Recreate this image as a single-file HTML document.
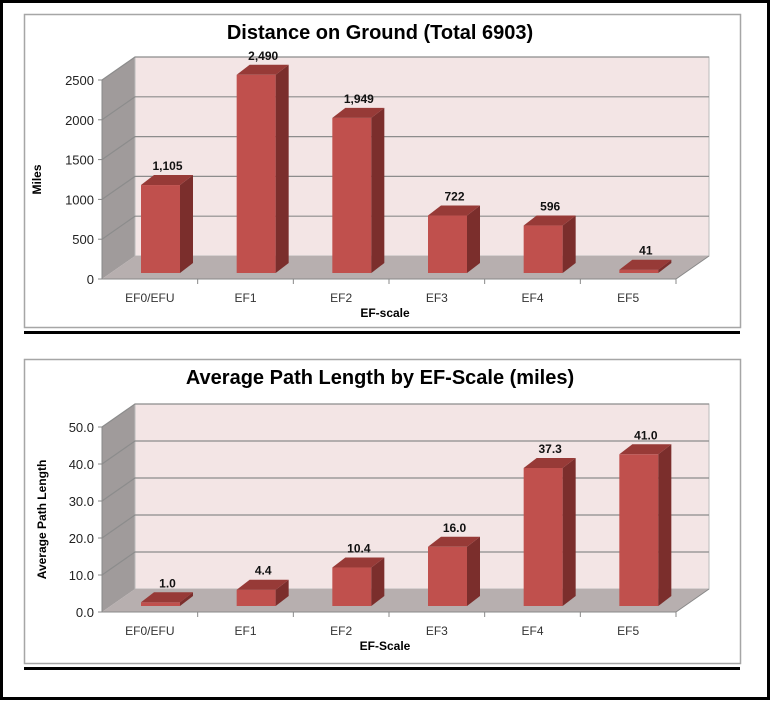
<!DOCTYPE html>
<html><head><meta charset="utf-8"><style>
body{margin:0;background:#fff;}
svg{display:block;font-family:"Liberation Sans",sans-serif;}
</style></head><body>
<svg id="svg" width="771" height="701" viewBox="0 0 771 701">
<rect x="1.5" y="1.5" width="767" height="697" fill="#fff" stroke="#000" stroke-width="3"/>
</svg>
<script>
const categories = ["EF0/EFU","EF1","EF2","EF3","EF4","EF5"];
const distanceValues = [1105,2490,1949,722,596,41];
const distanceLabels = ["1,105","2,490","1,949","722","596","41"];
const distanceTicks = [0,500,1000,1500,2000,2500];
const distanceTickLabels = ["0","500","1000","1500","2000","2500"];
const avgValues = [1.0,4.4,10.4,16.0,37.3,41.0];
const avgLabels = ["1.0","4.4","10.4","16.0","37.3","41.0"];
const avgTicks = [0,10,20,30,40,50];
const avgTickLabels = ["0.0","10.0","20.0","30.0","40.0","50.0"];

const NS="http://www.w3.org/2000/svg";
const svg=document.getElementById('svg');
function mk(tag,attrs,parent,text){const e=document.createElementNS(NS,tag);for(const k in attrs)e.setAttribute(k,attrs[k]);if(text!==undefined)e.textContent=text;(parent||svg).appendChild(e);return e;}

function chart(o){
  const g=mk('g',{});
  
  
  const fr=mk('rect',{x:24.5,y:o.frameTop+.5,width:716,height:o.frameBot-o.frameTop,fill:'#fff',stroke:'#a6a6a6','stroke-width':1.5},g);
  
  
  const ul=mk('rect',{x:24,y:o.frameBot+4,width:716,height:3,fill:'#000'},g);
  
  
  const t=mk('text',{x:380,y:o.frameTop+25,'text-anchor':'middle','font-size':20,'font-weight':'bold',fill:'#000'},g,o.title);
  
  
  const x0=102,x1=676,dx=33,dy=-23,y0=o.y0,ymax=o.ymax;
  const ys=v=>y0-(v/o.max)*(y0-ymax);
  // side wall
  const sw=mk('polygon',{points:`${x0},${y0} ${x0+dx},${y0+dy} ${x0+dx},${ymax+dy} ${x0},${ymax}`,fill:'#a09b9b'},g);
  
  
  const bw=mk('rect',{x:x0+dx,y:ymax+dy,width:x1-x0,height:y0-ymax,fill:'#f3e5e5',stroke:'#bbb'},g);
  
  
  const fl=mk('polygon',{points:`${x0},${y0} ${x1},${y0} ${x1+dx},${y0+dy} ${x0+dx},${y0+dy}`,fill:'#b7afaf'},g);
  
  
  o.ticks.forEach((v,i)=>{
    const y=ys(v);
    if(v>0){const gl=mk('polyline',{points:`${x0},${y} ${x0+dx},${y+dy} ${x1+dx},${y+dy}`,fill:'none',stroke:'#8c8c8c','stroke-width':1.2},g);
    
    }
    const tl=mk('text',{x:x0-8,y:y+5,'text-anchor':'end','font-size':13,fill:'#222'},g,o.tickLabels[i]);
    
    
    mk('line',{x1:x0-4,x2:x0,y1:y,y2:y,stroke:'#888'},g);
  });
  mk('line',{x1:x0,x2:x0,y1:ymax,y2:y0,stroke:'#888'},g);
  mk('line',{x1:x0,x2:x1,y1:y0,y2:y0,stroke:'#888'},g);
  mk('line',{x1:x1,x2:x1+dx,y1:y0,y2:y0+dy,stroke:'#888'},g);
  const cw=(x1-x0)/categories.length;
  categories.forEach((c,i)=>{
    mk('line',{x1:x0+cw*(i+1),x2:x0+cw*(i+1),y1:y0,y2:y0+5,stroke:'#888'},g);
    const xl=mk('text',{x:x0+cw*(i+.5),y:y0+23,'text-anchor':'middle','font-size':12,fill:'#333'},g,c);
    
    
    const v=o.values[i];
    const bx=x0+cw*i+39,bw2=39,by=y0-6,top=by-(v/o.max)*(y0-ymax),ddx=13,ddy=-10;
    const b=mk('g',{},g);
    
    
    mk('rect',{x:bx,y:top,width:bw2,height:by-top,fill:'#c0504d'},b);
    mk('polygon',{points:`${bx+bw2},${top} ${bx+bw2+ddx},${top+ddy} ${bx+bw2+ddx},${by+ddy} ${bx+bw2},${by}`,fill:'#7b2e2c'},b);
    mk('polygon',{points:`${bx},${top} ${bx+ddx},${top+ddy} ${bx+bw2+ddx},${top+ddy} ${bx+bw2},${top}`,fill:'#973a37'},b);
    const vl=mk('text',{x:bx+bw2/2+7,y:top-15,'text-anchor':'middle','font-size':12,'font-weight':'bold',fill:'#111'},g,o.labels[i]);
    
    
  });
  const xt=mk('text',{x:385,y:y0+38,'text-anchor':'middle','font-size':12,'font-weight':'bold',fill:'#000'},g,o.xTitle);
  
  
  const yt=mk('text',{x:0,y:0,'text-anchor':'middle','font-size':12,'font-weight':'bold',fill:'#000',transform:`translate(${o.ytx},${(y0+ymax)/2}) rotate(-90)`},g,o.yTitle);
  
  
}
chart({name:'distance-chart',frameTop:14,frameBot:327,title:'Distance on Ground (Total 6903)',y0:279,ymax:80,max:2500,ticks:distanceTicks,tickLabels:distanceTickLabels,values:distanceValues,labels:distanceLabels,xTitle:'EF-scale',yTitle:'Miles',ytx:41});
chart({name:'avg-path-chart',frameTop:359,frameBot:663,title:'Average Path Length by EF-Scale (miles)',y0:612,ymax:427,max:50,ticks:avgTicks,tickLabels:avgTickLabels,values:avgValues,labels:avgLabels,xTitle:'EF-Scale',yTitle:'Average Path Length',ytx:46});
</script>
</body></html>
